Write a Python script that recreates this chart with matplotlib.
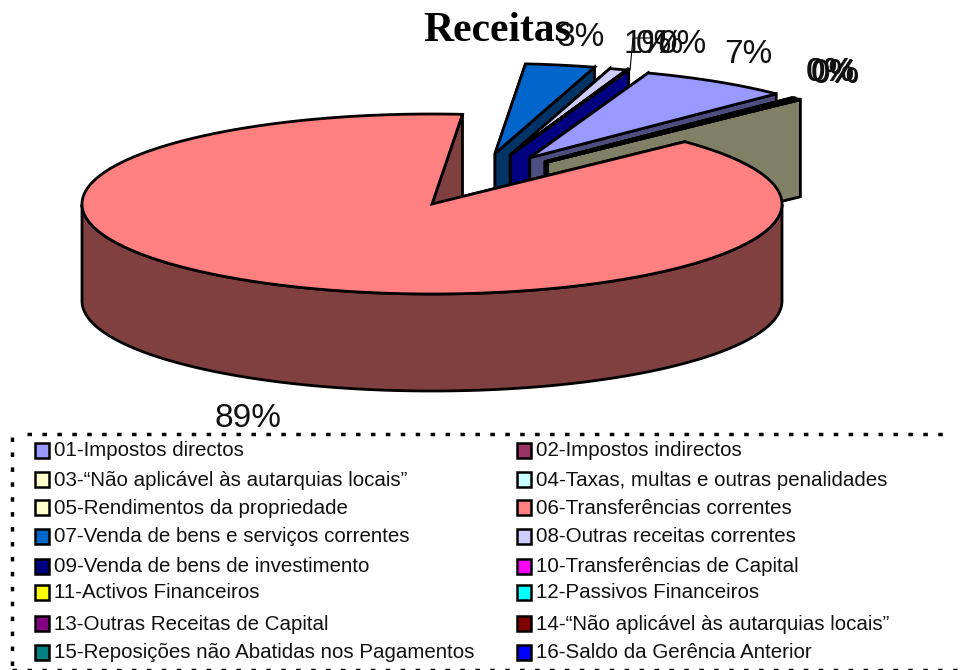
"""Receitas: 3D looking exploded pie with a two column legend."""
import matplotlib
matplotlib.use('Agg')
import matplotlib.pyplot as plt
from matplotlib.patches import Polygon, Rectangle
import numpy as np

# legend order
labels = ['01-Impostos directos', '02-Impostos indirectos',
          '03-“Não aplicável às autarquias locais”',
          '04-Taxas, multas e outras penalidades',
          '05-Rendimentos da propriedade', '06-Transferências correntes',
          '07-Venda de bens e serviços correntes',
          '08-Outras receitas correntes',
          '09-Venda de bens de investimento',
          '10-Transferências de Capital', '11-Activos Financeiros',
          '12-Passivos Financeiros', '13-Outras Receitas de Capital',
          '14-“Não aplicável às autarquias locais”',
          '15-Reposições não Abatidas nos Pagamentos',
          '16-Saldo da Gerência Anterior']
values = [6.95, 0.05, 0.05, 0.25, 0.05, 88.55, 3.2, 0.8, 0.05,
          0, 0, 0, 0, 0, 0, 0.05]
colors = ['#9999ff', '#993366', '#ffffcc', '#ccffff', '#ffffcc', '#ff8080',
          '#0066cc', '#ccccff', '#000080', '#ff00ff', '#ffff00', '#00ffff',
          '#800080', '#800000', '#008080', '#0000ff']

# pie parameters, in pixels of the 964x670 picture
cx, cy, rx, ry, depth = 432, 204, 350, 90, 97
start_angle = 85.
# explode offset per slice, direction (deg) and size (radius units)
explode = {0: (61.5, .585), 1: (55.5, .57), 2: (55.2, .572), 3: (55, .572),
           4: (54.7, .572), 6: (72.2, .589), 7: (67.7, .59), 8: (67.7, .59),
           15: (67.7, .59)}

fig = plt.figure(figsize=(9.64, 6.70), dpi=100)
ax = fig.add_axes([0, 0, 1, 1])
ax.set_xlim(0, 964)
ax.set_ylim(670, 0)
ax.axis('off')


def point(ang, ox, oy):
    a = np.radians(ang)
    return ox + rx * np.cos(a), oy - ry * np.sin(a)


def draw_slice(a1, a2, color, ex):
    """Draw one slice going clockwise from a1 to a2."""
    ang, size = ex
    ox = cx + rx * size * np.cos(np.radians(ang))
    oy = cy - ry * size * np.sin(np.radians(ang))
    side = tuple(0.5 * c for c in matplotlib.colors.to_rgb(color))
    n = max(int(abs(a1 - a2)), 2) + 1
    tt = np.linspace(a1, a2, n)
    xs, ys = point(tt, ox, oy)
    # cut walls
    for (px, py) in [(xs[0], ys[0]), (xs[-1], ys[-1])]:
        wall = [(ox, oy), (px, py), (px, py + depth), (ox, oy + depth)]
        ax.add_patch(Polygon(wall, fc=side, ec='k', lw=2, joinstyle='miter'))
    # rim wall, only the front half can be seen
    front = np.sin(np.radians(tt)) <= 0
    if front.any():
        rim = list(zip(xs[front], ys[front])) + \
            list(zip(xs[front][::-1], ys[front][::-1] + depth))
        ax.add_patch(Polygon(rim, fc=side, ec='k', lw=2))
    top = [(ox, oy)] + list(zip(xs, ys))
    ax.add_patch(Polygon(top, fc=color, ec='k', lw=2, joinstyle='miter'))


# slices run clockwise from the top, 06 is the last one painted
order = [6, 7, 8, 9, 10, 11, 12, 13, 14, 15, 0, 1, 2, 3, 4, 5]
ang = start_angle
spans = {}
for i in order:
    spans[i] = (ang, ang - values[i] * 3.6)
    ang = spans[i][1]
for i in order:
    if values[i] > 0:
        draw_slice(spans[i][0], spans[i][1], colors[i],
                   explode.get(i, (0, 0)))

ax.text(497, 41, 'Receitas', family='Liberation Serif', weight='bold',
        fontsize=30, ha='center', va='baseline')

# data labels, x and baseline
font = 'Liberation Sans'
lab_pos = {5: (248, 427), 6: (581, 46), 7: (648, 53), 8: (660, 53),
           15: (683, 53), 0: (748, 63), 1: (830, 81), 2: (831, 81),
           3: (835, 82), 4: (836, 83)}
for i, (x, y) in lab_pos.items():
    ax.text(x, y, '{:.0f}%'.format(values[i]), family=font, fontsize=24,
            ha='center', va='baseline', color='#111111')
ax.plot([630, 633, 650], [70, 38, 38], color='k', lw=0.8)

# legend box, the right side is never drawn in the reference
dash = (0, (1.3, 3))
ax.plot([27, 952], [434, 434], color='k', lw=2.5, ls=dash, dash_capstyle='butt')
ax.plot([12, 12], [437, 668], color='k', lw=2.5, ls=dash, dash_capstyle='butt')
ax.plot([12, 964], [669.5, 669.5], color='k', lw=2.5, ls=dash,
        dash_capstyle='butt')
row_y = [450, 479, 507, 536, 566, 592, 623, 652]
for i, lab in enumerate(labels):
    x = 35 if i % 2 == 0 else 517
    y = row_y[i // 2]
    ax.add_patch(Rectangle((x, y - 7.5), 14, 15, fc=colors[i], ec='k',
                           lw=1.8))
    ax.text(x + 19, y + 1, lab, family=font, fontsize=14.8, va='center',
            ha='left', color='#111111')

fig.savefig('out.png', dpi=100)
